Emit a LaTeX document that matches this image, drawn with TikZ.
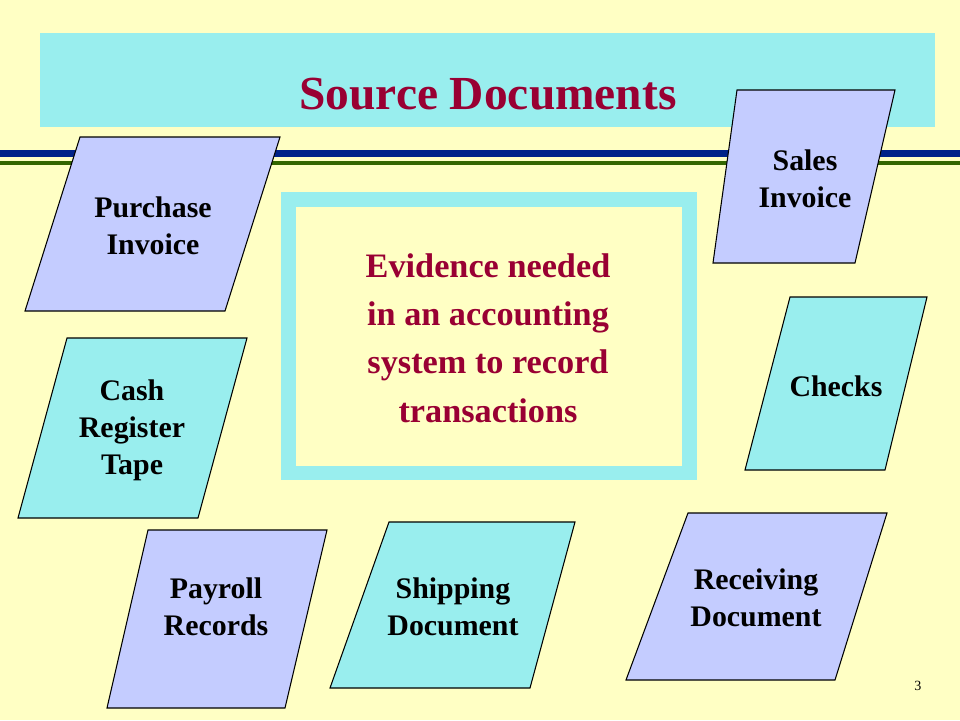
\documentclass[tikz,border=0pt]{standalone}
\usepackage{fontspec}
\setmainfont{Liberation Serif}
\definecolor{bg}{HTML}{FFFFC4}
\definecolor{cyanf}{HTML}{99EEEE}
\definecolor{lav}{HTML}{C4CCFF}
\definecolor{dred}{HTML}{990033}
\definecolor{navy}{HTML}{002288}
\definecolor{grn}{HTML}{336600}
\tikzset{doc/.style={draw=black, line width=0.6pt},
 lbl/.style={font=\bfseries\fontsize{17}{21}\selectfont, align=center, text=black}}
\begin{document}
\begin{tikzpicture}[x=0.02cm,y=-0.02cm]
\useasboundingbox (0,0) rectangle (960,720);
\fill[bg] (0,0) rectangle (960,720);
\fill[cyanf] (40,33) rectangle (935,127);
\node[font=\bfseries\fontsize{27}{32}\selectfont, text=dred] (title) at (488,94) {Source Documents};
\fill[navy] (0,150) rectangle (960,157);
\fill[grn] (0,161) rectangle (960,165);
\fill[cyanf] (281,192) rectangle (697,480);
\fill[bg] (296,207) rectangle (682,466);
\node[font=\bfseries\fontsize{19.5}{27.5}\selectfont, text=dred, align=center] (ev) at (488,338) {Evidence needed\\in an accounting\\system to record\\transactions};
\filldraw[doc, fill=lav] (80,137) -- (280,137) -- (225,311) -- (25,311) -- cycle;
\node[lbl] (pi) at (153,226) {Purchase\\Invoice};
\filldraw[doc, fill=lav] (737,90) -- (895,90) -- (855,263) -- (713,263) -- cycle;
\node[lbl] (si) at (805,179) {Sales\\Invoice};
\filldraw[doc, fill=cyanf] (790,297) -- (927,297) -- (885,470) -- (745,470) -- cycle;
\node[lbl] (ch) at (836,386) {Checks};
\filldraw[doc, fill=cyanf] (67,338) -- (247,338) -- (198,518) -- (18,518) -- cycle;
\node[lbl] (cr) at (132,430) {Cash\\Register\\Tape};
\filldraw[doc, fill=lav] (148,530) -- (327,530) -- (285,708) -- (107,708) -- cycle;
\node[lbl] (pr) at (216,607) {Payroll\\Records};
\filldraw[doc, fill=cyanf] (389,522) -- (575,522) -- (530,688) -- (330,688) -- cycle;
\node[lbl] (sd) at (453,607) {Shipping\\Document};
\filldraw[doc, fill=lav] (688,513) -- (887,513) -- (835,680) -- (626,680) -- cycle;
\node[lbl] (rd) at (756,598) {Receiving\\Document};
\node[font=\fontsize{8}{10}\selectfont] (pg) at (918,686) {3};
\end{tikzpicture}
\end{document}
